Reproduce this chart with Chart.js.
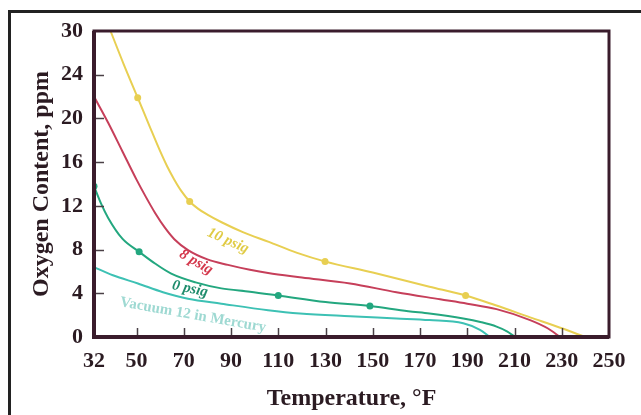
<!DOCTYPE html>
<html>
<head>
<meta charset="utf-8">
<script src="https://cdn.jsdelivr.net/npm/chart.js@4"></script>
<style>
  html, body { margin: 0; padding: 0; background: #fff; }
  #wrap { position: relative; width: 641px; height: 415px; overflow: hidden; }
  #frame { position: absolute; left: 8px; top: 10px; right: -10px; bottom: -10px; border-left: 3px solid #222; border-top: 3px solid #222; }
  canvas { position: absolute; left: 0; top: 0; }
</style>
</head>
<body>
<div id="wrap">
  <div id="frame"></div>
  <canvas id="oxygenChart" width="641" height="415"></canvas>
</div>
<script>
// temperatures (°F) and oxygen content (ppm)
const tenPsigTemp = [39, 44.5, 50.5, 55.5, 60, 63, 66, 69, 72.5, 76, 80, 86, 95, 106, 118, 130, 150, 174, 189.3, 202, 216.6, 230.7, 239.8];
const tenPsigOxy  = [28, 25, 21.9, 19.3, 17.0, 15.6, 14.4, 13.35, 12.4, 11.75, 11.2, 10.5, 9.6, 8.7, 7.7, 6.9, 5.9, 4.6, 3.8, 2.9, 1.8, 0.75, 0];

const eightPsigTemp = [32, 38, 44, 50, 54, 58, 62, 66, 71.8, 80, 88.7, 98, 105.7, 120, 140.4, 160, 178.5, 190, 202.4, 216.6, 224, 229.3];
const eightPsigOxy  = [22, 19.6, 17.0, 14.4, 12.8, 11.3, 10.0, 8.95, 7.95, 7.1, 6.6, 6.15, 5.85, 5.45, 4.9, 4.1, 3.45, 3.05, 2.55, 1.55, 0.8, 0];

const zeroPsigTemp = [32, 35, 38, 44, 51.1, 58, 64.7, 75, 85.9, 98, 110, 130, 148.8, 165, 174, 188.3, 196, 202.4, 207, 210.2];
const zeroPsigOxy  = [13.8, 12.2, 10.9, 9.0, 7.8, 6.7, 5.8, 5.0, 4.45, 4.15, 3.8, 3.2, 2.83, 2.35, 2.15, 1.7, 1.35, 0.95, 0.5, 0];

const vacuumTemp = [32, 40, 50.6, 61.2, 71.8, 85.9, 105.7, 119.2, 140.4, 160, 174, 188.3, 195.4, 199.6];
const vacuumOxy  = [6.4, 5.65, 4.9, 4.1, 3.5, 3.05, 2.45, 2.15, 1.9, 1.7, 1.55, 1.25, 0.65, 0];

// marked points on the curves
const tenPsigDotTemp = [50.5, 72.5, 129.8, 189.3];
const tenPsigDotOxy  = [21.9, 12.4, 6.9, 3.8];
const zeroPsigDotTemp = [32, 51.1, 110, 148.8];
const zeroPsigDotOxy  = [13.8, 7.8, 3.8, 2.83];

const xTickValues = [32, 50, 70, 90, 110, 130, 150, 170, 190, 210, 230, 250];
const yTickValues = [0, 4, 8, 12, 16, 20, 24, 28];
const yTickLabels = ["0", "4", "8", "12", "16", "20", "24", "30"];

const YELLOW = "#e8cf52";
const RED = "#c63f5a";
const GREEN = "#23a77f";
const TEAL = "#3dc1b4";
const INK = "#2b1b22";

function toPoints(xs, ys) {
  return xs.map((x, i) => ({ x: x, y: ys[i] }));
}

function curve(label, xs, ys, color) {
  return {
    label: label,
    data: toPoints(xs, ys),
    showLine: true,
    borderColor: color,
    borderWidth: 2,
    pointRadius: 0,
    cubicInterpolationMode: "monotone",
    clip: false
  };
}

function dots(label, xs, ys, color) {
  return {
    label: label,
    data: toPoints(xs, ys),
    showLine: false,
    pointRadius: 3.5,
    pointBackgroundColor: color,
    pointBorderColor: color,
    pointBorderWidth: 0
  };
}

const curveNotes = [
  { text: "10 psig", x: 88.7, y: 8.8, angle: 24, color: "#e0cb45", font: "italic bold 15px 'Liberation Serif'" },
  { text: "8 psig", x: 75.2, y: 6.85, angle: 30, color: "#d4384c", font: "italic bold 15px 'Liberation Serif'" },
  { text: "0 psig", x: 72.6, y: 4.4, angle: 12, color: "#1e8c6c", font: "italic bold 15px 'Liberation Serif'" },
  { text: "Vacuum 12 in Mercury", x: 73.9, y: 2.0, angle: 10, color: "#9ed9d2", font: "bold 15px 'Liberation Serif'" }
];

const framePlugin = {
  id: "framePlugin",
  afterDatasetsDraw(chart) {
    const { ctx, chartArea: a, scales } = chart;
    ctx.save();
    // inner tick marks
    ctx.strokeStyle = "#4a4046";
    ctx.lineWidth = 1.5;
    xTickValues.slice(1, -1).forEach(v => {
      const px = Math.round(scales.x.getPixelForValue(v)) + 0.5;
      ctx.beginPath();
      ctx.moveTo(px, a.bottom);
      ctx.lineTo(px, a.bottom - 9);
      ctx.stroke();
    });
    yTickValues.slice(1, -1).forEach(v => {
      const py = Math.round(scales.y.getPixelForValue(v)) + 0.5;
      ctx.beginPath();
      ctx.moveTo(a.left, py);
      ctx.lineTo(a.left + 10, py);
      ctx.stroke();
    });
    // plot frame
    ctx.strokeStyle = "#3a1c2c";
    ctx.lineWidth = 3;
    ctx.strokeRect(a.left, a.top, a.right - a.left, a.bottom - a.top);
    ctx.lineWidth = 4;
    ctx.beginPath();
    ctx.moveTo(a.left, a.top);
    ctx.lineTo(a.left, a.bottom);
    ctx.lineTo(a.right, a.bottom);
    ctx.stroke();
    // curve names
    curveNotes.forEach(n => {
      ctx.save();
      ctx.translate(scales.x.getPixelForValue(n.x), scales.y.getPixelForValue(n.y));
      ctx.rotate(n.angle * Math.PI / 180);
      ctx.font = n.font;
      ctx.fillStyle = n.color;
      ctx.textAlign = "center";
      ctx.textBaseline = "middle";
      ctx.fillText(n.text, 0, 0);
      ctx.restore();
    });
    ctx.restore();
  }
};

const tickFont = { family: "'Liberation Serif', serif", weight: "bold", size: 22 };
const titleFont = { family: "'Liberation Serif', serif", weight: "bold", size: 24 };

new Chart(document.getElementById("oxygenChart"), {
  type: "scatter",
  data: {
    datasets: [
      curve("10 psig", tenPsigTemp, tenPsigOxy, YELLOW),
      curve("8 psig", eightPsigTemp, eightPsigOxy, RED),
      curve("0 psig", zeroPsigTemp, zeroPsigOxy, GREEN),
      curve("Vacuum 12 in Mercury", vacuumTemp, vacuumOxy, TEAL),
      dots("10 psig points", tenPsigDotTemp, tenPsigDotOxy, YELLOW),
      dots("0 psig points", zeroPsigDotTemp, zeroPsigDotOxy, GREEN)
    ]
  },
  options: {
    responsive: false,
    animation: false,
    layout: { padding: { top: 31, right: 32, left: 0, bottom: 0 } },
    plugins: {
      legend: { display: false },
      tooltip: { enabled: false }
    },
    scales: {
      x: {
        type: "linear",
        min: 32,
        max: 250,
        afterBuildTicks: axis => { axis.ticks = xTickValues.map(v => ({ value: v })); },
        afterFit: axis => { axis.height = 78; },
        grid: { display: false },
        border: { display: false },
        ticks: { padding: 3, color: INK, font: tickFont, autoSkip: false, maxRotation: 0 },
        title: { display: true, text: "Temperature, °F", color: INK, font: titleFont, padding: { top: 0, bottom: 2 } }
      },
      y: {
        type: "linear",
        min: 0,
        max: 28,
        afterBuildTicks: axis => { axis.ticks = yTickValues.map(v => ({ value: v })); },
        afterFit: axis => { axis.width = 94; },
        grid: { display: false },
        border: { display: false },
        ticks: {
          padding: 3,
          color: INK,
          font: tickFont,
          callback: (value) => yTickLabels[yTickValues.indexOf(value)]
        },
        title: { display: true, text: "Oxygen Content, ppm", color: INK, font: titleFont, padding: { top: 27, bottom: 0 } }
      }
    }
  },
  plugins: [framePlugin]
});
</script>
</body>
</html>
